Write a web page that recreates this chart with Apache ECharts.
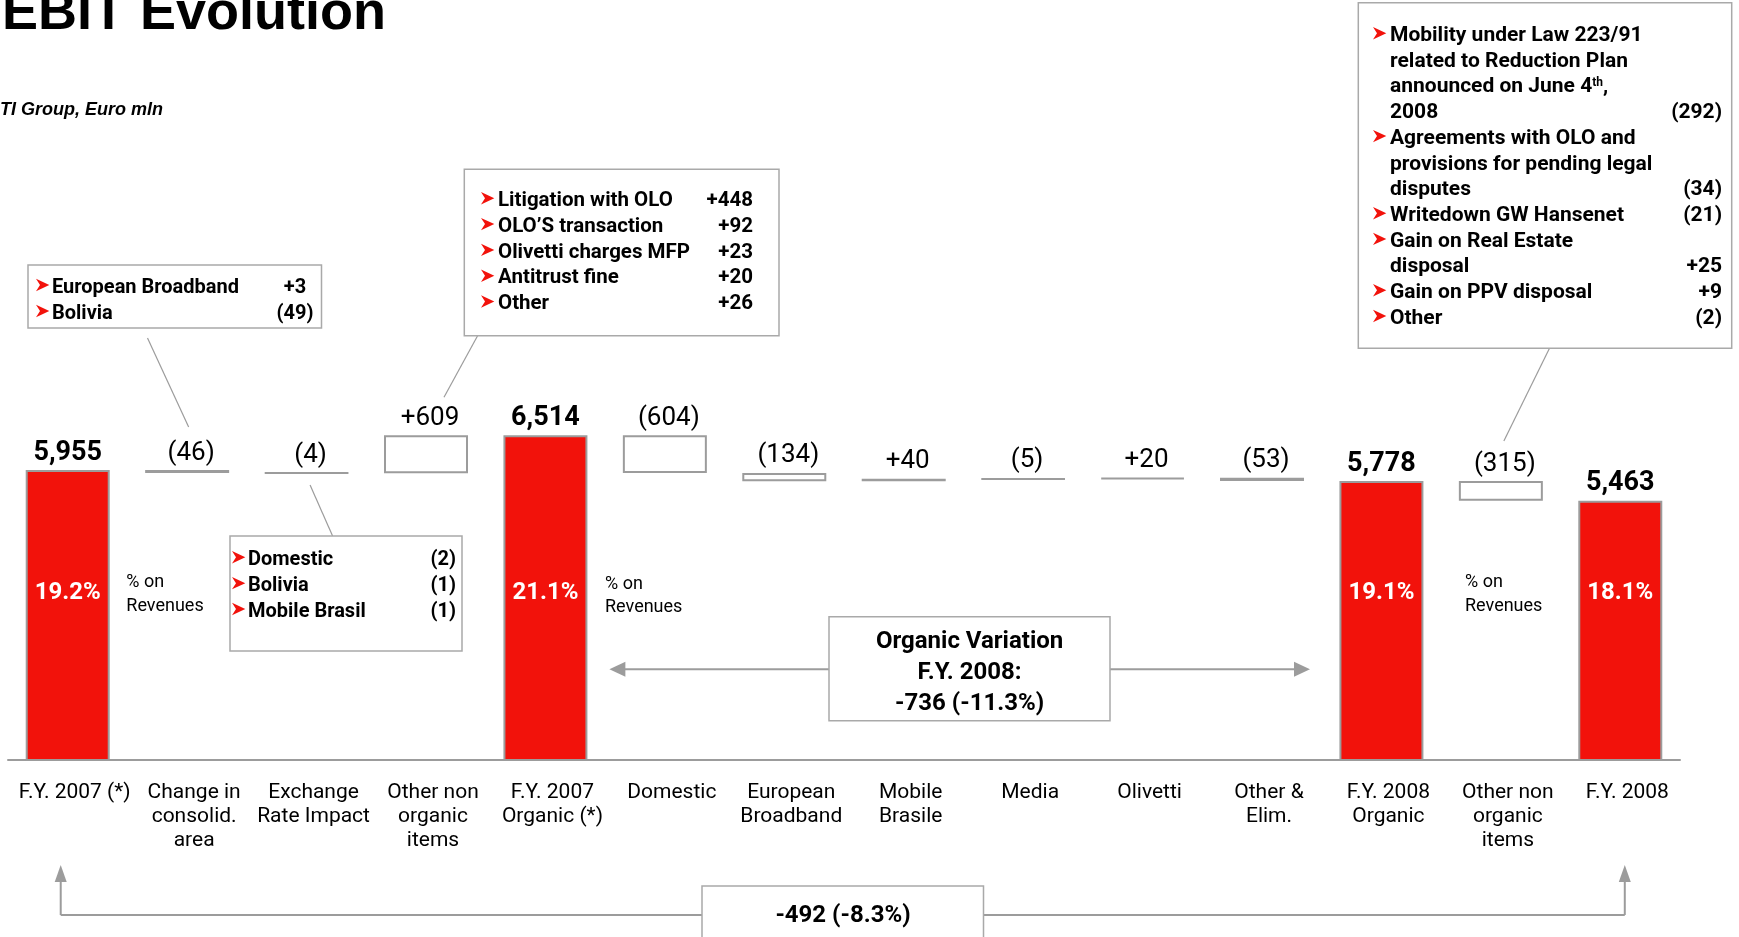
<!DOCTYPE html>
<html>
<head>
<meta charset="utf-8">
<script src="https://cdn.jsdelivr.net/npm/echarts@6/dist/echarts.min.js"></script>
<style>
  html, body { margin: 0; padding: 0; background: #fff; }
  #chart { width: 1739px; height: 937px; }
</style>
</head>
<body>
<div id="chart"></div>
<script>
// ---- Data (Euro mln) ----
const categories = [
  'F.Y. 2007 (*)', 'Change in\nconsolid.\narea', 'Exchange\nRate Impact', 'Other non\norganic\nitems',
  'F.Y. 2007\nOrganic (*)', 'Domestic', 'European\nBroadband', 'Mobile\nBrasile', 'Media', 'Olivetti',
  'Other &\nElim.', 'F.Y. 2008\nOrganic', 'Other non\norganic\nitems', 'F.Y. 2008'
];
const ebitTotals = [5955, null, null, null, 6514, null, null, null, null, null, null, 5778, null, 5463];
const ebitChanges = [null, -46, -4, 609, null, -604, -134, 40, -5, 20, -53, null, -315, null];
const marginOnRevenues = [19.2, null, null, null, 21.1, null, null, null, null, null, null, 19.1, null, 18.1];

// Breakdown of the items shown in the call-out boxes
const consolidAreaItems = [['European Broadband', 3], ['Bolivia', -49]];
const exchangeRateItems = [['Domestic', -2], ['Bolivia', -1], ['Mobile Brasil', -1]];
const nonOrganic2007Items = [
  ['Litigation with OLO', 448], ['OLO\u2019S transaction', 92], ['Olivetti charges MFP', 23],
  ['Antitrust fine', 20], ['Other', 26]
];
const nonOrganic2008Items = [
  [['Mobility under Law 223/91', 'related to Reduction Plan', 'announced on June 4{sup|th},', '2008'], -292],
  [['Agreements with OLO and', 'provisions for pending legal', 'disputes'], -34],
  [['Writedown GW Hansenet'], -21],
  [['Gain on Real Estate', 'disposal'], 25],
  [['Gain on PPV disposal'], 9],
  [['Other'], -2]
];

// ---- Styles ----
const RED = '#F2120B';
const GRAY = '#9C9C9C';
const BOX = '#A9A9A9';
const FONT = 'Roboto, "Liberation Sans", sans-serif';

// ---- Waterfall layout: invisible base + visible step ----
const baseValues = [];
const stepValues = [];
let running = 0;
categories.forEach((c, i) => {
  if (ebitTotals[i] != null) {
    running = ebitTotals[i];
    baseValues.push('-');
    stepValues.push('-');
  } else {
    const prev = running;
    running += ebitChanges[i];
    baseValues.push(Math.min(prev, running));
    stepValues.push(Math.abs(ebitChanges[i]));
  }
});

const fmtDelta = v => (v < 0 ? '(' + (-v) + ')' : '+' + v);
const fmtTotal = v => v.toLocaleString('en-US');

const chart = echarts.init(document.getElementById('chart'));

chart.setOption({
  animation: false,
  grid: { left: 8, right: 59, top: 405, bottom: 177 },
  xAxis: {
    type: 'category',
    data: categories,
    axisLine: { lineStyle: { color: GRAY, width: 2 } },
    axisTick: { show: false },
    axisLabel: {
      interval: 0, color: '#000', fontFamily: FONT, fontSize: 21,
      lineHeight: 24, margin: 21, padding: [0, 0, 0, 14]
    }
  },
  yAxis: { type: 'value', min: 1300, max: 7000, show: false },
  series: [
    {
      name: 'base', type: 'bar', stack: 'ebit', data: baseValues, barWidth: 84,
      silent: true, itemStyle: { color: 'transparent' }
    },
    {
      name: 'EBIT', type: 'bar', stack: 'ebit', barWidth: 84,
      data: ebitTotals.map(v => (v == null ? '-' : v)),
      itemStyle: { color: RED, borderColor: GRAY, borderWidth: 2 },
      label: {
        show: true, position: 'top', distance: 4, color: '#000',
        fontFamily: FONT, fontWeight: 'bold', fontSize: 27, lineHeight: 26,
        formatter: p => fmtTotal(p.value)
      }
    },
    {
      name: 'change', type: 'bar', stack: 'ebit', data: stepValues, barWidth: 84,
      itemStyle: { color: '#fff', borderColor: GRAY, borderWidth: 2 },
      label: {
        show: true, position: 'top', distance: 4, offset: [4, 0], color: '#000',
        fontFamily: FONT, fontSize: 26, lineHeight: 26,
        formatter: p => fmtDelta(ebitChanges[p.dataIndex])
      }
    }
  ]
});

// ---- Annotations ----
const px = (i, v) => chart.convertToPixel({ gridIndex: 0 }, [i, v]);

function text(x, y, str, font, extra) {
  return {
    type: 'text', x: x, y: y, silent: true, z: 100,
    style: Object.assign({
      text: str, font: font, fill: '#000',
      align: 'left', verticalAlign: 'middle', textAlign: 'left', textVerticalAlign: 'middle'
    }, extra || {})
  };
}
function line(x1, y1, x2, y2, w) {
  return { type: 'line', silent: true, z: 90, shape: { x1, y1, x2, y2 }, style: { stroke: GRAY, lineWidth: w || 1.2 } };
}
function rect(x, y, w, h) {
  return { type: 'rect', silent: true, z: 95, shape: { x, y, width: w, height: h }, style: { fill: '#fff', stroke: BOX, lineWidth: 1.5 } };
}
function tri(points, fill) {
  return { type: 'polygon', silent: true, z: 100, shape: { points }, style: { fill: fill || GRAY } };
}
// red arrowhead bullet
function bullet(x, y) {
  return tri([[x, y - 6.2], [x + 13.3, y], [x, y + 6.2], [x + 4, y]], RED);
}
function callout(box, items, o) {
  const font = 'bold ' + o.size + 'px ' + FONT;
  const els = [rect(box[0], box[1], box[2], box[3])];
  let row = 0;
  const rowY = r => o.y0 + r * o.step;
  items.forEach(([label, value]) => {
    const lines = Array.isArray(label) ? label : [label];
    els.push(bullet(o.bulletX, rowY(row)));
    lines.forEach((t, k) => {
      els.push(text(o.textX, rowY(row + k) + 2.5, t, font, {
        rich: { sup: { fontFamily: FONT, fontSize: 12, fontWeight: 'bold', verticalAlign: 'top' } }
      }));
    });
    row += lines.length;
    els.push(text(o.valueX, rowY(row - 1) + 2.5, fmtDelta(value), font,
      { align: o.valueAlign, textAlign: o.valueAlign }));
  });
  return els;
}

const els = [];

// Title and unit
els.push(text(2, 14, 'EBIT Evolution', 'bold 54px "Liberation Sans"'));
els.push(text(0, 110, 'TI Group, Euro mln', 'italic bold 18px "Liberation Sans"'));

// Call-out boxes
els.push(...callout([28, 265, 293.5, 63], consolidAreaItems,
  { bulletX: 36, textX: 52, y0: 285, step: 26, valueX: 295, valueAlign: 'center', size: 20 }));
els.push(...callout([230, 536, 232, 115], exchangeRateItems,
  { bulletX: 232, textX: 248, y0: 557.3, step: 25.85, valueX: 456, valueAlign: 'right', size: 20 }));
els.push(...callout([464.3, 169.3, 314.7, 166.4], nonOrganic2007Items,
  { bulletX: 481, textX: 498, y0: 198.3, step: 25.8, valueX: 753, valueAlign: 'right', size: 20.5 }));
els.push(...callout([1358.3, 2.7, 373.4, 345.6], nonOrganic2008Items,
  { bulletX: 1373, textX: 1390, y0: 33.3, step: 25.7, valueX: 1722, valueAlign: 'right', size: 21 }));

// Connectors from the boxes to their bars
const top1 = px(1, ebitTotals[0])[1];
const top2 = px(2, baseValues[2] + stepValues[2])[1];
const top3 = px(3, baseValues[3] + stepValues[3])[1];
const top12 = px(12, baseValues[12] + stepValues[12])[1];
els.push(line(147.5, 338, px(1, 0)[0] + 1.5, top1 - 43));
els.push(line(px(2, 0)[0] + 3.5, top2 + 12, 332.6, 536));
els.push(line(477.6, 335.7, px(3, 0)[0] + 18, top3 - 38));
els.push(line(1549.5, 348.3, px(12, 0)[0] + 3, top12 - 40));

// Margin on revenues inside the total bars
marginOnRevenues.forEach((m, i) => {
  if (m == null) return;
  els.push(text(px(i, 0)[0], 592.5, m.toFixed(1) + '%', 'bold 24px ' + FONT,
    { fill: '#fff', align: 'center', textAlign: 'center' }));
});
[[126.3, 582.5], [605, 584], [1465, 582.5]].forEach(([x, y]) => {
  els.push(text(x, y, '% on', '18px ' + FONT));
  els.push(text(x, y + 23.5, 'Revenues', '18px ' + FONT));
});

// Organic variation between the two organic totals
const orgDelta = ebitTotals[11] - ebitTotals[4];
const orgPct = (orgDelta / ebitTotals[4] * 100).toFixed(1);
const yArr = 669.3;
els.push(line(625, yArr, 829, yArr, 2));
els.push(line(1110, yArr, 1294, yArr, 2));
els.push(tri([[609.4, yArr], [625.4, yArr - 7.5], [625.4, yArr + 7.5]]));
els.push(tri([[1310, yArr], [1294, yArr - 7.5], [1294, yArr + 7.5]]));
els.push(rect(829, 616.7, 281, 104));
const orgFont = 'bold 24px ' + FONT;
els.push(text(969.6, 641.5, 'Organic Variation', orgFont, { align: 'center', textAlign: 'center' }));
els.push(text(969.6, 672.5, 'F.Y. 2008:', orgFont, { align: 'center', textAlign: 'center' }));
els.push(text(969.6, 703.5, orgDelta + ' (' + orgPct + '%)', orgFont, { align: 'center', textAlign: 'center' }));

// Total variation bracket under the axis
const totDelta = ebitTotals[13] - ebitTotals[0];
const totPct = (totDelta / ebitTotals[0] * 100).toFixed(1);
const xl = px(0, 0)[0] - 7, xr = px(13, 0)[0] + 4.5, yB = 915;
els.push(line(xl, 880, xl, yB, 2));
els.push(line(xl, yB, 702, yB, 2));
els.push(line(981.5, yB, xr, yB, 2));
els.push(line(xr, 880, xr, yB, 2));
els.push(tri([[xl, 865], [xl - 6, 882], [xl + 6, 882]]));
els.push(tri([[xr, 865], [xr - 6, 882], [xr + 6, 882]]));
els.push(rect(702, 886, 281.5, 70));
els.push(text(843, 916, totDelta + ' (' + totPct + '%)', orgFont, { align: 'center', textAlign: 'center' }));

chart.setOption({ graphic: { elements: els } });
</script>
</body>
</html>
